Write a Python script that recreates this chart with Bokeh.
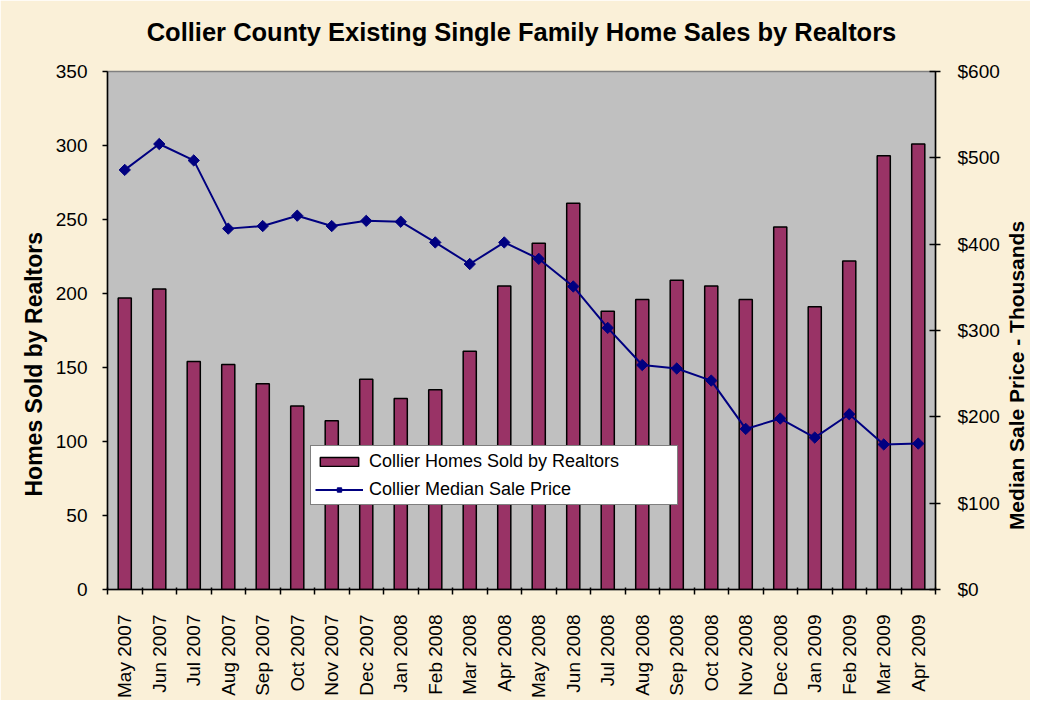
import math
from bokeh.plotting import figure
from bokeh.models import (Range1d, LinearAxis, FixedTicker, CustomJSTickFormatter,
                          NumeralTickFormatter, Legend, LegendItem, ColumnDataSource, Title, Label)
from bokeh.embed import file_html
from bokeh.resources import INLINE

months = ["May 2007", "Jun 2007", "Jul 2007", "Aug 2007", "Sep 2007", "Oct 2007",
          "Nov 2007", "Dec 2007", "Jan 2008", "Feb 2008", "Mar 2008", "Apr 2008",
          "May 2008", "Jun 2008", "Jul 2008", "Aug 2008", "Sep 2008", "Oct 2008",
          "Nov 2008", "Dec 2008", "Jan 2009", "Feb 2009", "Mar 2009", "Apr 2009"]
homes_sold = [197, 203, 154, 152, 139, 124, 114, 142, 129, 135, 161, 205,
              234, 261, 188, 196, 209, 205, 196, 245, 191, 222, 293, 301]
median_price = [486, 516, 497, 418, 421, 433, 421, 427, 426, 402, 377, 402,
                383, 351, 303, 260, 256, 242, 186, 198, 176, 203, 168, 169]
left_ticks = [0, 50, 100, 150, 200, 250, 300, 350]
right_ticks = [0, 100, 200, 300, 400, 500, 600]

FONT = "Liberation Sans"
BG = "#FAF0D8"

centers = [i + 0.5 for i in range(len(months))]
src = ColumnDataSource(dict(x=centers, sold=homes_sold, price=median_price, month=months))

p = figure(width=1030, height=700, x_range=Range1d(0, len(months)), y_range=Range1d(0, 350),
           output_backend="svg", toolbar_location=None,
           min_border_left=107, min_border_right=95, min_border_top=71, min_border_bottom=110)
p.extra_y_ranges = {"price": Range1d(0, 600)}

p.background_fill_color = "#C0C0C0"
p.border_fill_color = BG
p.outline_line_color = "#808080"
p.outline_line_width = 1.5
p.xgrid.visible = False
p.ygrid.visible = False

# title, with a blank spacer between it and the plot area
spacer = Title(text=" ", text_font=FONT, text_font_size="16px", standoff=7)
main_title = Title(text="Collier County Existing Single Family Home Sales by Realtors",
                   align="center", standoff=0, text_font=FONT, text_font_size="25.5px",
                   text_font_style="bold", text_color="#000000")
p.add_layout(spacer, "above")
p.add_layout(main_title, "above")

# x axis
xa = p.xaxis[0]
xa.ticker = FixedTicker(ticks=centers, minor_ticks=list(range(len(months) + 1)))
xa.formatter = CustomJSTickFormatter(args=dict(labels=months),
                                     code="const i = Math.floor(tick); return (i >= 0 && i < labels.length) ? labels[i] : '';")
xa.major_label_orientation = math.pi / 2
xa.major_tick_out = 0
xa.major_tick_in = 0
xa.minor_tick_out = 5
xa.minor_tick_in = 2
xa.minor_tick_line_color = "#000000"
xa.minor_tick_line_width = 1.5
xa.axis_line_color = "#000000"
xa.axis_line_width = 1.5
xa.major_label_standoff = 20
xa.major_label_text_font = FONT
xa.major_label_text_font_size = "19px"
xa.major_label_text_color = "#000000"

# left axis
ya = p.yaxis[0]
ya.ticker = FixedTicker(ticks=left_ticks)
ya.minor_tick_line_color = None
ya.major_tick_out = 5
ya.major_tick_in = 0
ya.major_tick_line_width = 1.5
ya.major_tick_line_color = "#000000"
ya.axis_line_color = "#000000"
ya.axis_line_width = 1.5
ya.major_label_standoff = 15
ya.major_label_text_font = FONT
ya.major_label_text_font_size = "19px"
ya.major_label_text_color = "#000000"

# right axis
ra = LinearAxis(y_range_name="price", ticker=FixedTicker(ticks=right_ticks),
                formatter=NumeralTickFormatter(format="$0"))
ra.minor_tick_line_color = None
ra.major_tick_out = 5
ra.major_tick_in = 6
ra.major_tick_line_width = 1.5
ra.major_tick_line_color = "#000000"
ra.axis_line_color = "#000000"
ra.axis_line_width = 1.5
ra.major_label_standoff = 17
ra.major_label_text_font = FONT
ra.major_label_text_font_size = "19px"
ra.major_label_text_color = "#000000"
p.add_layout(ra, "right")

# left axis title, reading bottom-to-top, placed as in the original
lt = Title(text="Homes Sold by Realtors", align="left", offset=93, standoff=12,
           text_font=FONT, text_font_size="23px", text_font_style="bold", text_color="#000000")
p.add_layout(lt, "left")

# right axis title, reading bottom-to-top, in the right-hand panel
rt = Label(text="Median Sale Price - Thousands", x=14, y=214, x_units="screen", y_units="screen",
           angle=math.pi / 2, text_align="center", text_baseline="middle",
           text_font=FONT, text_font_size="21px", text_font_style="bold", text_color="#000000")
p.add_layout(rt, "right")

bars = p.vbar(x="x", top="sold", width=0.38, source=src,
              fill_color="#993366", line_color="#000000", line_width=1.5)
line = p.line(x="x", y="price", source=src, y_range_name="price",
              line_color="#000080", line_width=2)
pts = p.scatter(x="x", y="price", source=src, y_range_name="price", marker="square",
                size=8, angle=math.pi / 4, fill_color="#000080", line_color="#000080")

legend = Legend(items=[LegendItem(label="Collier Homes Sold by Realtors", renderers=[bars]),
                       LegendItem(label="Collier Median Sale Price", renderers=[line, pts])],
                location=(203, 84))
legend.background_fill_color = "#FFFFFF"
legend.background_fill_alpha = 1.0
legend.border_line_color = "#000000"
legend.border_line_width = 1.5
legend.label_text_font = FONT
legend.label_text_font_size = "18px"
legend.label_text_color = "#000000"
legend.glyph_width = 48
legend.glyph_height = 11
legend.label_height = 22
legend.label_width = 304
legend.spacing = 6
legend.padding = 4
legend.margin = 0
legend.label_standoff = 6
p.add_layout(legend, "center")

open("out.html", "w").write(file_html(p, INLINE))
